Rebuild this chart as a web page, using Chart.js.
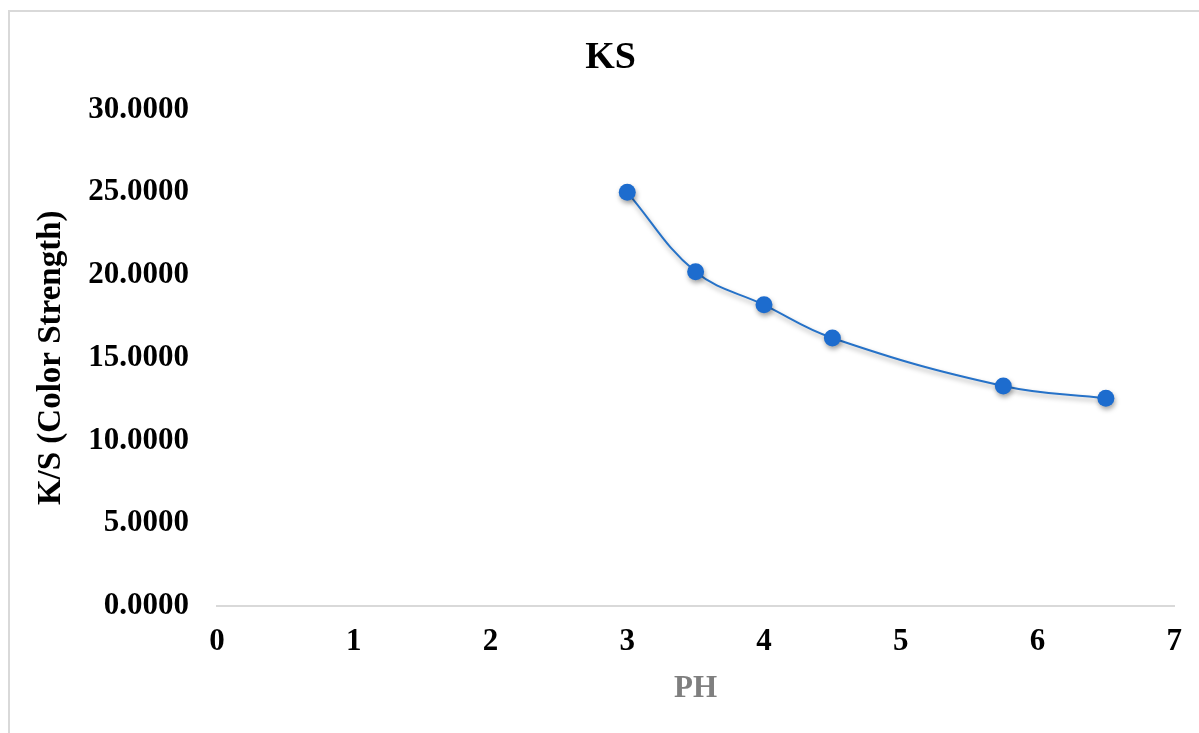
<!DOCTYPE html>
<html>
<head>
<meta charset="utf-8">
<script src="https://cdn.jsdelivr.net/npm/chart.js@4"></script>
<style>
  html, body { margin: 0; padding: 0; background: #fff; overflow: hidden; }
  .frame { position: absolute; left: 8px; top: 10px; width: 1199px; height: 733px; border: 2px solid #d9d9d9; box-sizing: border-box; }
  .wrap { position: absolute; left: 0; top: 0; width: 1199px; height: 733px; }
</style>
</head>
<body>
<div class="frame"></div>
<div class="wrap"><canvas id="chart"></canvas></div>
<script>
// PH values and K/S readings
const phValues = [3, 3.5, 4, 4.5, 5.75, 6.5]
const ksValues = [25.0, 20.2, 18.2, 16.2, 13.3, 12.55]
const xTicks = [0, 1, 2, 3, 4, 5, 6, 7]
const yTicks = [0, 5, 10, 15, 20, 25, 30]

const serif = "'Liberation Serif', 'Times New Roman', serif"

// soft drop shadow under the line and markers
const shadowPlugin = {
    id: 'shadow',
    beforeDatasetsDraw(chart) {
        const ctx = chart.ctx
        ctx.save()
        ctx.shadowColor = 'rgba(0,0,0,0.35)'
        ctx.shadowBlur = 5
        ctx.shadowOffsetX = 1
        ctx.shadowOffsetY = 3
    },
    afterDatasetsDraw(chart) {
        chart.ctx.restore()
    }
}

// centre the title over the whole frame, not just the plot
const titleShift = {
    id: 'titleShift',
    afterLayout(chart) {
        if (chart.titleBlock) {
            chart.titleBlock.left = 46
            chart.titleBlock.right = 1175
        }
    }
}

const ctx = document.getElementById('chart').getContext('2d')
new Chart(ctx, {
    type: 'scatter',
    data: {
        datasets: [{
            label: 'KS',
            data: phValues.map((x, i) => ({ x: x, y: ksValues[i] })),
            showLine: true,
            tension: 0.4,
            borderColor: '#2672c8',
            borderWidth: 2,
            pointRadius: 8.5,
            pointBackgroundColor: '#1d6cce',
            pointBorderColor: '#1d6cce',
            pointBorderWidth: 0,
        }]
    },
    options: {
        responsive: true,
        maintainAspectRatio: false,
        animation: false,
        layout: { padding: { left: 0, right: 24, top: 0, bottom: 0 } },
        scales: {
            x: {
                type: 'linear',
                min: 0,
                max: 7,
                afterBuildTicks: (axis) => { axis.ticks = xTicks.map(v => ({ value: v })) },
                afterFit: (axis) => { axis.height = 127 },
                grid: { display: false, drawTicks: false },
                border: { display: true, color: '#d9d9d9', width: 2 },
                ticks: {
                    padding: 17,
                    color: '#000',
                    font: { family: serif, size: 31, weight: 'bold' }
                },
                title: {
                    display: true,
                    text: 'PH',
                    color: '#7f7f7f',
                    padding: { top: 0, bottom: 25 },
                    font: { family: serif, size: 31, weight: 'bold' }
                }
            },
            y: {
                min: 0,
                max: 30,
                afterBuildTicks: (axis) => { axis.ticks = yTicks.map(v => ({ value: v })) },
                afterFit: (axis) => { axis.width = 217 },
                grid: { display: false, drawTicks: false },
                border: { display: false },
                ticks: {
                    padding: 28,
                    color: '#000',
                    font: { family: serif, size: 31, weight: 'bold' },
                    callback: (v) => Number(v).toFixed(4)
                },
                title: {
                    display: true,
                    text: 'K/S (Color Strength)',
                    color: '#000',
                    padding: { top: 32, bottom: 0 },
                    font: { family: serif, size: 33, weight: 'bold' }
                }
            }
        },
        plugins: {
            legend: { display: false },
            tooltip: { enabled: false },
            title: {
                display: true,
                text: 'KS',
                color: '#000',
                padding: { top: 35, bottom: 29 },
                font: { family: serif, size: 38, weight: 'bold' }
            }
        }
    },
    plugins: [shadowPlugin, titleShift]
})
</script>
</body>
</html>
